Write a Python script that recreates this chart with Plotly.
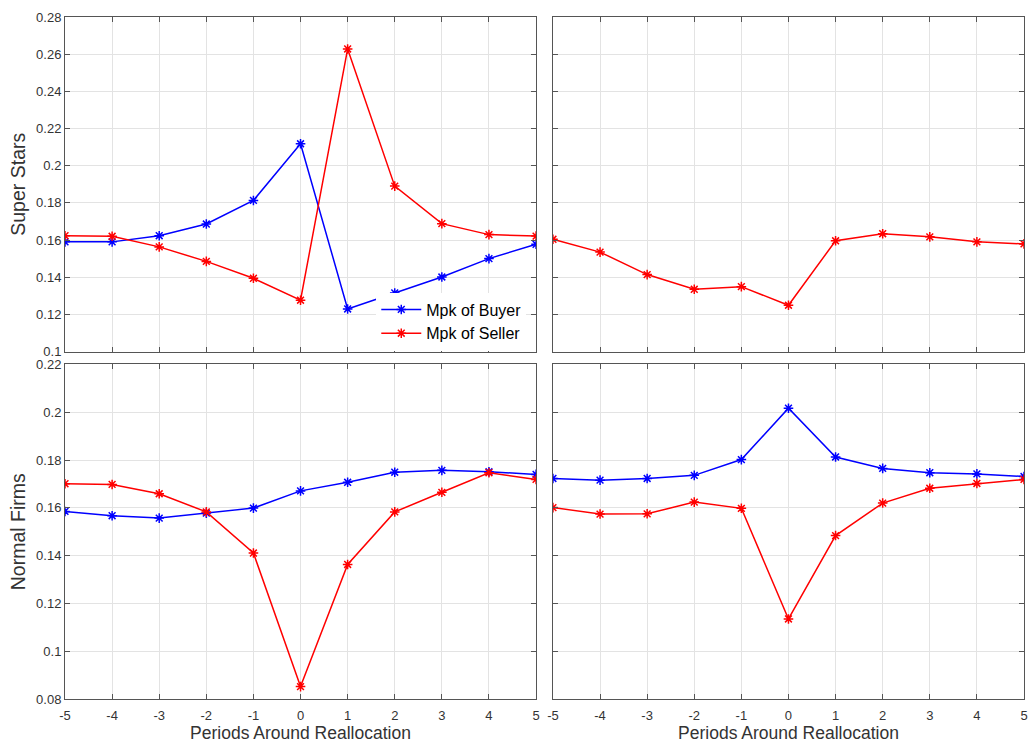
import plotly.graph_objects as go
from plotly.subplots import make_subplots

periods = [-5, -4, -3, -2, -1, 0, 1, 2, 3, 4, 5]

ss_buyer_left = [0.159, 0.159, 0.1623, 0.1686, 0.1813, 0.2118, 0.1229, 0.1315, 0.1401, 0.150, 0.1577]
ss_seller_left = [0.1623, 0.1620, 0.1563, 0.1485, 0.1394, 0.1276, 0.2628, 0.189, 0.1688, 0.1629, 0.1621]
ss_seller_right = [0.1604, 0.1535, 0.1414, 0.1335, 0.1349, 0.1249, 0.1596, 0.1634, 0.1617, 0.159, 0.1579]

nf_buyer_left = [0.1585, 0.1567, 0.1557, 0.1578, 0.1599, 0.1671, 0.1707, 0.1749, 0.1757, 0.1751, 0.1740]
nf_seller_left = [0.1701, 0.1698, 0.1659, 0.1583, 0.1411, 0.0852, 0.1363, 0.1583, 0.1665, 0.1747, 0.1719]
nf_buyer_right = [0.1723, 0.1716, 0.1723, 0.1736, 0.1802, 0.2017, 0.1813, 0.1765, 0.1747, 0.1742, 0.1731]
nf_seller_right = [0.1601, 0.1574, 0.1575, 0.1624, 0.1598, 0.1135, 0.1484, 0.1620, 0.1682, 0.1702, 0.1719]

BLUE = "#0000FF"
RED = "#FF0000"
FONT = "Liberation Sans, Arial, sans-serif"
TXT = "#333333"

fig = make_subplots(rows=2, cols=2, horizontal_spacing=0.0176, vertical_spacing=0.019)

def add(row, col, y, color, name, show):
    fig.add_trace(go.Scatter(
        x=periods, y=y, mode="lines+markers", name=name, showlegend=show,
        line=dict(color=color, width=1.5),
        marker=dict(symbol="asterisk-open", size=8, color=color, line=dict(color=color, width=1.5)),
    ), row=row, col=col)

add(1, 1, ss_buyer_left, BLUE, "Mpk of Buyer", True)
add(1, 1, ss_seller_left, RED, "Mpk of Seller", True)
add(1, 2, ss_seller_right, RED, "Mpk of Seller", False)
add(2, 1, nf_buyer_left, BLUE, "Mpk of Buyer", False)
add(2, 1, nf_seller_left, RED, "Mpk of Seller", False)
add(2, 2, nf_buyer_right, BLUE, "Mpk of Buyer", False)
add(2, 2, nf_seller_right, RED, "Mpk of Seller", False)

common = dict(showline=True, linecolor="#555555", linewidth=1, mirror="ticks",
              ticks="inside", ticklen=5, tickcolor="#555555",
              showgrid=True, gridcolor="#e3e3e3", gridwidth=1, zeroline=False,
              tickfont=dict(family=FONT, size=13, color=TXT))

for r in (1, 2):
    for c in (1, 2):
        fig.update_xaxes(range=[-5, 5], tickmode="array", tickvals=periods,
                         ticktext=[str(p) for p in periods],
                         showticklabels=(r == 2), ticklabelstandoff=4,
                         row=r, col=c, **common)
for c in (1, 2):
    fig.update_yaxes(range=[0.1, 0.28], dtick=0.02, tick0=0.1, showticklabels=(c == 1),
                     row=1, col=c, **common)
    fig.update_yaxes(range=[0.08, 0.22], dtick=0.02, tick0=0.08, showticklabels=(c == 1),
                     row=2, col=c, **common)

yfont = dict(family=FONT, size=19.5, color=TXT)
xfont = dict(family=FONT, size=17.5, color=TXT)
fig.update_yaxes(title_text="Super Stars", title_font=yfont, title_standoff=5, row=1, col=1)
fig.update_yaxes(title_text="Normal Firms", title_font=yfont, title_standoff=5, row=2, col=1)
fig.update_xaxes(title_text="Periods Around Reallocation", title_font=xfont, title_standoff=5, row=2, col=1)
fig.update_xaxes(title_text="Periods Around Reallocation", title_font=xfont, title_standoff=5, row=2, col=2)

fig.update_layout(
    width=1029, height=744,
    margin=dict(l=65, r=1, t=17, b=45),
    paper_bgcolor="white", plot_bgcolor="white",
    font=dict(family=FONT, color=TXT),
    legend=dict(x=0.481, y=0.596, xanchor="right", yanchor="top",
                bgcolor="rgba(255,255,255,1)", borderwidth=0,
                font=dict(family=FONT, size=16, color="#000000"),
                tracegroupgap=0, itemwidth=40),
)

fig.write_html("out.html")
